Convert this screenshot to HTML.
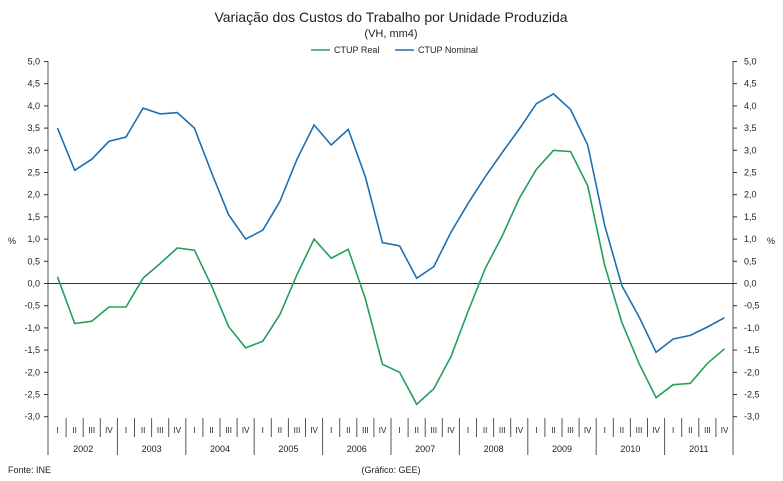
<!DOCTYPE html>
<html><head><meta charset="utf-8"><style>
html,body{margin:0;padding:0;background:#fff;width:783px;height:481px;overflow:hidden}
svg{font-family:"Liberation Sans",sans-serif}
</style></head><body>
<svg id="s" width="783" height="481" xmlns="http://www.w3.org/2000/svg">
<text x="391" y="22" font-size="14" text-anchor="middle" fill="#222">Variação dos Custos do Trabalho por Unidade Produzida</text>
<text x="391" y="37" font-size="11" text-anchor="middle" fill="#222">(VH, mm4)</text>
<line x1="311" y1="50" x2="330" y2="50" stroke="#22a05a" stroke-width="1.5"/>
<text x="334" y="53" font-size="9" fill="#222">CTUP Real</text>
<line x1="395" y1="50" x2="414" y2="50" stroke="#1f6faf" stroke-width="1.5"/>
<text x="418" y="53" font-size="9" fill="#222">CTUP Nominal</text>
<text x="8" y="244" font-size="9" fill="#222">%</text>
<text x="767" y="244" font-size="9" fill="#222">%</text>
<text x="8" y="473" font-size="9" fill="#222">Fonte: INE</text>
<text x="391" y="473" font-size="9" text-anchor="middle" fill="#222">(Gráfico: GEE)</text>
<g id="g"></g>
</svg>
<script>
var g=document.getElementById('g'),o='';
var X0=49,W=684,Y0=283.5,U=44.4,qw=W/40;
function y(v){return Y0-v*U}
o+='<line x1="48" y1="61" x2="48" y2="455" stroke="#555"/>';
o+='<line x1="733" y1="61" x2="733" y2="455" stroke="#555"/>';
for(var k=-6;k<=10;k++){var v=k/2;var yy=y(v).toFixed(1);var t=(v.toFixed(1)).replace('.',',');
o+='<line x1="44" y1="'+yy+'" x2="48" y2="'+yy+'" stroke="#333"/>';
o+='<line x1="733" y1="'+yy+'" x2="737" y2="'+yy+'" stroke="#333"/>';
o+='<text x="40" y="'+(+yy+3)+'" font-size="9" text-anchor="end" fill="#222">'+t+'</text>';
o+='<text x="744" y="'+(+yy+3)+'" font-size="9" fill="#222">'+t+'</text>';}
o+='<line x1="48" y1="'+Y0+'" x2="733" y2="'+Y0+'" stroke="#333"/>';
var R=['I','II','III','IV'];
for(var i=0;i<40;i++){var xl=X0+i*qw;
if(i>0){o+='<line x1="'+xl.toFixed(1)+'" y1="418" x2="'+xl.toFixed(1)+'" y2="'+(i%4==0?455:437)+'" stroke="#555"/>';}
o+='<text x="'+(xl+qw/2).toFixed(1)+'" y="433" font-size="8" text-anchor="middle" fill="#222">'+R[i%4]+'</text>';}
for(var yr=0;yr<10;yr++){o+='<text x="'+(X0+(yr*4+2)*qw).toFixed(1)+'" y="452" font-size="9" text-anchor="middle" fill="#222">'+(2002+yr)+'</text>';}
var nom=[3.5,2.55,2.8,3.2,3.3,3.95,3.82,3.85,3.5,2.5,1.55,1.0,1.2,1.85,2.8,3.57,3.12,3.47,2.4,0.92,0.85,0.12,0.38,1.15,1.8,2.4,2.95,3.48,4.05,4.27,3.92,3.12,1.3,-0.05,-0.75,-1.55,-1.25,-1.17,-0.98,-0.77];
var real=[0.15,-0.9,-0.85,-0.53,-0.53,0.12,0.45,0.8,0.75,-0.05,-0.97,-1.45,-1.3,-0.7,0.2,1.0,0.57,0.77,-0.35,-1.82,-2.0,-2.72,-2.37,-1.65,-0.63,0.33,1.07,1.92,2.57,3.0,2.97,2.2,0.4,-0.88,-1.8,-2.57,-2.28,-2.25,-1.8,-1.47];
function pl(d,c){var p=d.map(function(v,i){return (X0+(i+0.5)*qw).toFixed(1)+','+y(v).toFixed(1)}).join(' ');
return '<polyline points="'+p+'" fill="none" stroke="'+c+'" stroke-width="1.6"/>';}
o+=pl(real,'#22a05a')+pl(nom,'#1f6faf');
g.innerHTML=o;
</script>
</body></html>
